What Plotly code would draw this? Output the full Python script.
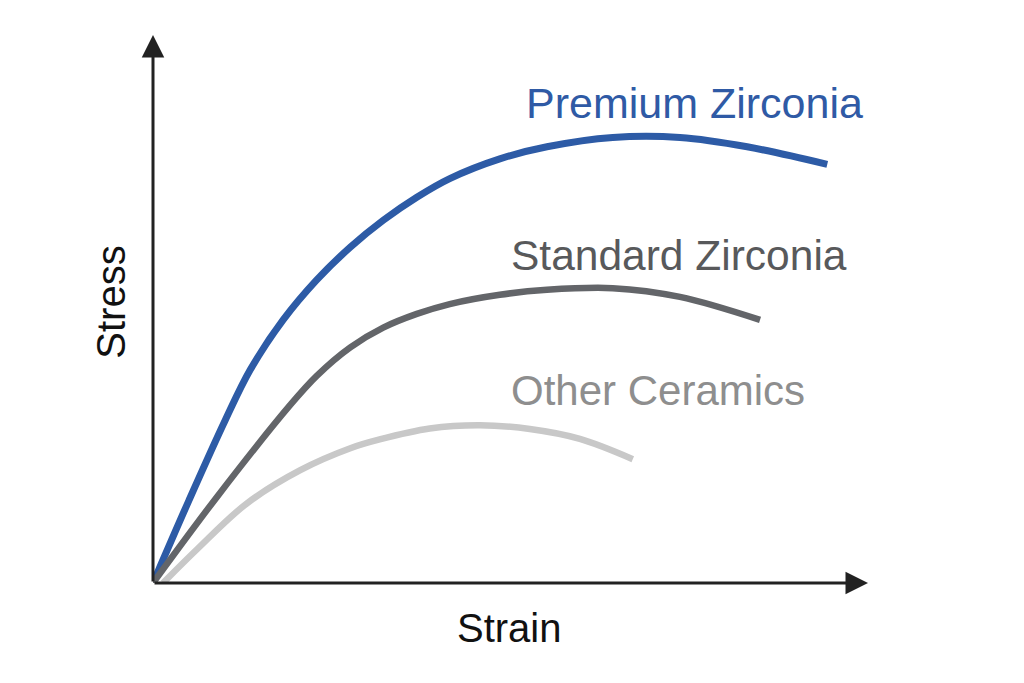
import plotly.graph_objects as go

# Data (strain, stress) in arbitrary units
premium_x = [0, 5.0, 10.1, 13.6, 18.2, 22.9, 27.6, 32.2, 36.9, 41.5, 48.5, 55.1, 64.3, 73.7, 83.1, 94.3]
premium_y = [0, 15.0, 29.7, 38.9, 48.0, 55.3, 61.3, 66.2, 70.4, 73.8, 77.4, 79.6, 81.3, 81.3, 79.6, 76.4]

standard_x = [0, 9.0, 19.2, 22.9, 27.6, 32.2, 36.9, 41.5, 48.5, 55.1, 64.3, 73.7, 84.9]
standard_y = [0, 15.8, 32.5, 37.8, 43.0, 46.6, 49.1, 50.9, 52.6, 53.5, 53.8, 52.2, 48.0]

other_x = [1.4, 6.2, 13.1, 20.6, 27.6, 31.7, 38.7, 45.7, 52.7, 59.7, 67.1]
other_y = [0, 6.2, 14.5, 20.6, 24.6, 26.2, 28.2, 28.8, 28.1, 26.3, 22.6]

series_names = ["Premium Zirconia", "Standard Zirconia", "Other Ceramics"]
line_colors = ["#2d5ba6", "#636569", "#c8c8c8"]
text_colors = ["#2f5aa5", "#58595b", "#8e8e8e"]
line_widths = [7, 6.5, 6.5]
label_sizes = [43, 42.5, 42]

fig = go.Figure()
for xs, ys, name, c, w in zip([premium_x, standard_x, other_x],
                              [premium_y, standard_y, other_y],
                              series_names, line_colors, line_widths):
    fig.add_trace(go.Scatter(x=xs, y=ys, mode="lines", name=name,
                             line=dict(color=c, width=w, shape="spline", smoothing=1.0),
                             hoverinfo="skip", cliponaxis=False))

font_family = "Liberation Sans, Arial, sans-serif"

# Series labels
label_pos = [(51.9, 87.6), (49.8, 59.7), (49.8, 35.2)]
annotations = []
for (lx, ly), name, tc, fs in zip(label_pos, series_names, text_colors, label_sizes):
    annotations.append(dict(x=lx, y=ly, xref="x", yref="y", text=name, showarrow=False,
                            xanchor="left", yanchor="middle",
                            font=dict(family=font_family, size=fs, color=tc)))

# Axis arrows
annotations.append(dict(x=0, y=100, ax=0, ay=0, xref="x", yref="y", axref="x", ayref="y",
                        text="", showarrow=True, arrowhead=2, arrowsize=1.5, arrowwidth=3,
                        arrowcolor="#222222", standoff=0, startstandoff=0))
annotations.append(dict(x=100, y=0, ax=0, ay=0, xref="x", yref="y", axref="x", ayref="y",
                        text="", showarrow=True, arrowhead=2, arrowsize=1.5, arrowwidth=3,
                        arrowcolor="#222222", standoff=0, startstandoff=0))

# Axis titles
annotations.append(dict(x=0.499, y=-0.082, xref="paper", yref="paper", text="Strain", showarrow=False,
                        xanchor="center", yanchor="middle",
                        font=dict(family=font_family, size=40, color="#111111")))
annotations.append(dict(x=-0.059, y=0.513, xref="paper", yref="paper", text="Stress", showarrow=False,
                        xanchor="center", yanchor="middle", textangle=-90,
                        font=dict(family=font_family, size=40, color="#111111")))

fig.update_layout(
    width=1024, height=683,
    margin=dict(l=145, r=164, t=27, b=108),
    paper_bgcolor="white", plot_bgcolor="white",
    showlegend=False,
    annotations=annotations,
    xaxis=dict(range=[0, 100], showgrid=False, zeroline=False, showticklabels=False,
               showline=False, ticks="", fixedrange=True),
    yaxis=dict(range=[0, 100], showgrid=False, zeroline=False, showticklabels=False,
               showline=False, ticks="", fixedrange=True),
)

fig.write_html("out.html")
